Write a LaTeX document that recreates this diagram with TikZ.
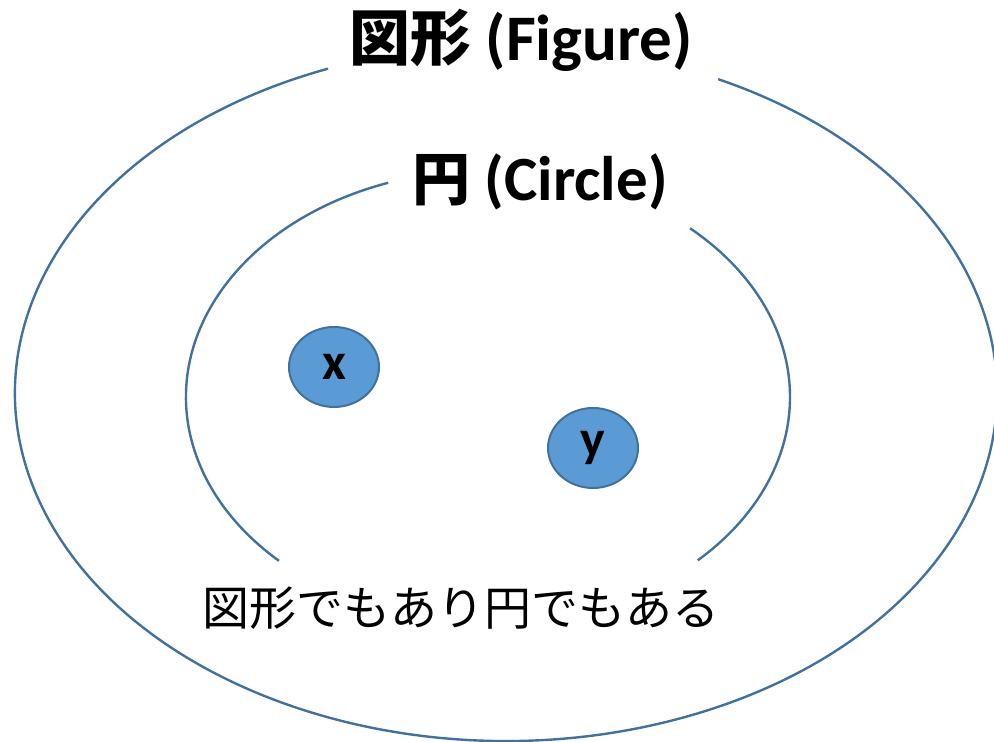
\documentclass[tikz,border=0pt]{standalone}
\usepackage{fontspec}
\setmainfont{Carlito}
\newfontfamily\jp{Noto Sans CJK JP}
\usetikzlibrary{shapes.geometric}
\definecolor{edge}{HTML}{41719C}
\definecolor{dotfill}{HTML}{5B9BD5}
\tikzset{
  setline/.style={draw=edge, line width=2.4pt},
  elem/.style={ellipse, draw=edge, fill=dotfill, line width=2pt, minimum width=90pt, minimum height=80pt, inner sep=0pt, font=\fontsize{52}{56}\selectfont\bfseries},
  titlebig/.style={inner sep=0pt, font=\fontsize{65}{70}\selectfont\bfseries},
  titlemid/.style={inner sep=0pt, font=\fontsize{63}{68}\selectfont\bfseries},
  note/.style={inner sep=0pt, font=\fontsize{47}{52}\selectfont\jp}
}
\begin{document}
\begin{tikzpicture}[x=1pt,y=1pt]
\useasboundingbox (0,0) rectangle (994,742);
% outer set (Figure): centre (506,349), radii 491/348
\draw[setline] ([shift={(111.25:491pt and 348pt)}]506,349) arc[start angle=111.25, end angle=424.4, x radius=491pt, y radius=348pt];
% inner set (Circle): centre (488,345), radii 302/227
\draw[setline] ([shift={(109.3:302pt and 227pt)}]488,345) arc[start angle=109.3, end angle=226.2, x radius=302pt, y radius=227pt];
\draw[setline] ([shift={(314:302pt and 227pt)}]488,345) arc[start angle=314, end angle=408, x radius=302pt, y radius=227pt];
\node[titlebig] (figtitle) at (521,702) {{\jp\fontsize{61}{66}\selectfont 図形} (Figure)};
\node[titlemid] (circtitle) at (540,560) {{\jp\fontsize{58}{62}\selectfont 円} (Circle)};
\node[elem] (x) at (334,375) {x};
\node[elem] (y) at (593,294) {y};
\node[note] (both) at (461,134) {図形でもあり円でもある};
\end{tikzpicture}
\end{document}
